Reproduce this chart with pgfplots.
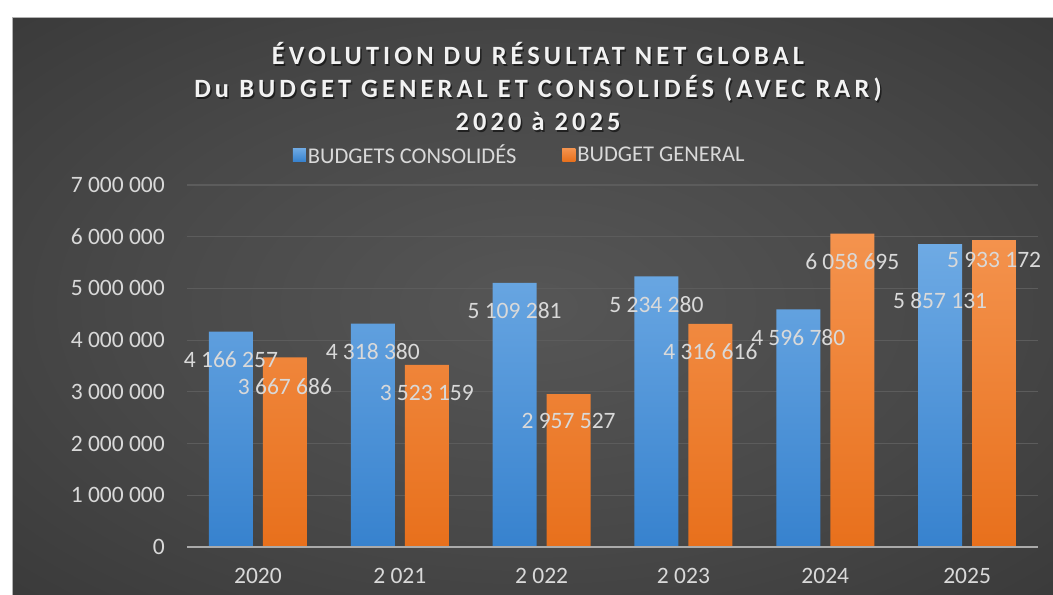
\documentclass[border=0pt]{standalone}
\usepackage{pgfplots}
\usepackage{pgfplotstable}
\pgfplotsset{compat=1.18}
\usepackage{fontspec}
\setmainfont{Carlito}
\newfontfamily\titlefont[LetterSpace=15.5]{Carlito}
\definecolor{bgC}{RGB}{86,86,86}
\definecolor{bgM}{RGB}{72,72,72}
\definecolor{bgE}{RGB}{46,46,46}
\definecolor{bgK}{RGB}{34,34,34}
\definecolor{blueT}{RGB}{110,170,228}
\definecolor{blueB}{RGB}{55,130,206}
\definecolor{blueL}{RGB}{91,155,213}
\definecolor{orT}{RGB}{244,147,78}
\definecolor{orB}{RGB}{232,112,28}
\definecolor{orL}{RGB}{237,125,49}
\definecolor{lgray}{RGB}{217,217,217}
\definecolor{tgray}{RGB}{242,242,242}
\definecolor{gridc}{RGB}{92,92,92}
\definecolor{basec}{RGB}{170,170,170}
\pgfdeclareradialshading{bgshade}{\pgfpoint{0bp}{0bp}}{color(0bp)=(bgC); color(20bp)=(bgM); color(50bp)=(bgE); color(71bp)=(bgK)}
\pgfplotstableread[col sep=comma]{
x,y,label,dy
0,4166257,4 166 257,-28
1,4318380,4 318 380,-28
2,5109281,5 109 281,-28
3,5234280,5 234 280,-28
4,4596780,4 596 780,-28
5,5857131,5 857 131,-56
}\consolides
\pgfplotstableread[col sep=comma]{
x,y,label,dy
0,3667686,3 667 686,-29
1,3523159,3 523 159,-28
2,2957527,2 957 527,-27
3,4316616,4 316 616,-28
4,6058695,6 058 695,-28
5,5933172,5 933 172,-20
}\general
\begin{document}
\begin{tikzpicture}[x=1bp,y=1bp]
\path[use as bounding box] (0,0) rectangle (1053,595);
\fill[white] (0,0) rectangle (1053,595);
\shade[shading=bgshade] (12.5,0) rectangle (1053,577.5);
\draw[gray!60, line width=0.6bp] (12.5,0) -- (12.5,577.5) -- (1053,577.5);
% title
\foreach \yy/\tt in {530/{ÉVOLUTION DU RÉSULTAT NET GLOBAL},497/{Du BUDGET GENERAL ET CONSOLIDÉS (AVEC RAR)},464/{2020 à 2025}}{
  \node[anchor=base, text=black, opacity=0.55, font=\titlefont\bfseries\fontsize{26.4bp}{30bp}\selectfont, inner sep=0pt] at (539.5,\yy-1.5) {\tt};
  \node[anchor=base, text=tgray, font=\titlefont\bfseries\fontsize{26.4bp}{30bp}\selectfont, inner sep=0pt] at (538,\yy) {\tt};
}
\begin{axis}[
  at={(187bp,48bp)}, anchor=south west,
  scale only axis, width=851bp, height=362bp,
  xmin=-0.5, xmax=5.5, ymin=0, ymax=7000000,
  ybar=10bp, bar width=44bp,
  axis line style={draw=none},
  major tick length=0pt,
  ymajorgrids, grid style={gridc, line width=1.2bp},
  ytick={0,1000000,2000000,3000000,4000000,5000000,6000000,7000000},
  yticklabels={0,1 000 000,2 000 000,3 000 000,4 000 000,5 000 000,6 000 000,7 000 000},
  scaled y ticks=false,
  xtick={0,1,2,3,4,5},
  xticklabels={2020,2 021,2 022,2 023,2024,2025},
  yticklabel style={anchor=east, inner sep=0pt, xshift=-22bp, text=lgray, font=\fontsize{23.5bp}{28bp}\selectfont},
  xticklabel style={anchor=north, inner sep=0pt, yshift=-21bp, text=lgray, font=\fontsize{23.5bp}{28bp}\selectfont},
  legend columns=2,
  legend style={draw=none, fill=none, text=lgray, font=\fontsize{22.5bp}{26bp}\selectfont,
    at={(0.391,1.083)}, anchor=center,
    /tikz/every even column/.append style={column sep=44bp}},
  clip=false,
]
\addplot[draw=none, top color=blueT, bottom color=blueB,
  point meta=explicit symbolic, nodes near coords,
  visualization depends on={\thisrow{dy} \as \dyv},
  every node near coord/.append style={anchor=center, yshift={\dyv*1bp}, text=lgray, font=\fontsize{23.5bp}{28bp}\selectfont},
  legend image code/.code={\fill[blueL] (0bp,-6.5bp) rectangle (13bp,6.5bp);}]
  table[x=x, y=y, meta=label] {\consolides};
\addplot[draw=none, top color=orT, bottom color=orB,
  point meta=explicit symbolic, nodes near coords,
  visualization depends on={\thisrow{dy} \as \dyv},
  every node near coord/.append style={anchor=center, yshift={\dyv*1bp}, text=lgray, font=\fontsize{23.5bp}{28bp}\selectfont},
  legend image code/.code={\fill[orL] (0bp,-6.5bp) rectangle (13bp,6.5bp);}]
  table[x=x, y=y, meta=label] {\general};
\legend{BUDGETS CONSOLIDÉS, BUDGET GENERAL}
\draw[basec, line width=1.6bp] (rel axis cs:0,0) -- (rel axis cs:1,0);
\end{axis}
\end{tikzpicture}
\end{document}
